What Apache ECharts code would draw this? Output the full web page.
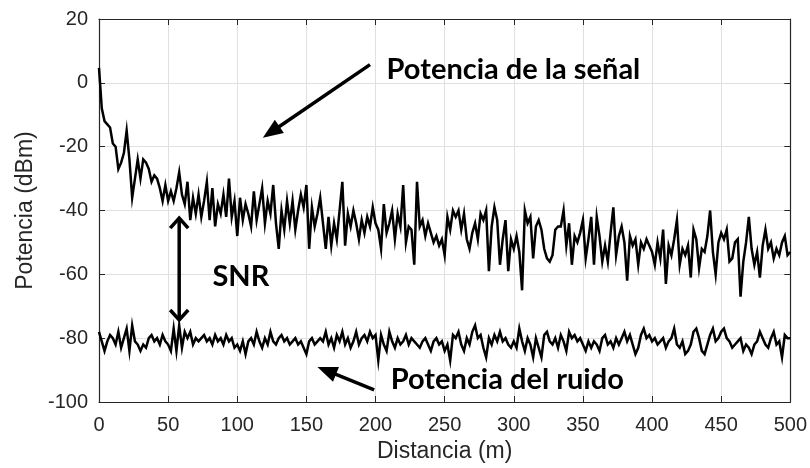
<!DOCTYPE html>
<html><head><meta charset="utf-8">
<script src="https://cdn.jsdelivr.net/npm/echarts@6/dist/echarts.min.js"></script>
<style>html,body{margin:0;padding:0;background:#fff}#c{width:810px;height:468px}</style>
</head><body><div id="c"></div>
<script>
// Distance step between samples (m)
const STEP = 2;
// Signal power (dBm), samples at 0,2,4,...,500 m
const signal = [
 4.7,-8,-12,-13,-14,-19,-20,-27,-25,-22,
 -15,-24,-36,-30,-24,-30,-24,-25,-27,-31,
 -29,-30,-33,-37,-32,-37,-34,-37,-33,-28,
 -35,-38,-31,-43,-36,-41,-35,-42,-37,-31,
 -43,-33,-45,-38,-41,-35,-42,-30,-42,-37,
 -48,-36,-43,-38,-41,-45,-34,-43,-38,-33,
 -44,-37,-41,-32,-44,-52,-40,-46,-37,-44,
 -37,-46,-40,-35,-39,-32,-52,-39,-45,-41,
 -36,-44,-52,-42,-51,-44,-49,-40,-31,-51,
 -41,-45,-40,-44,-49,-43,-47,-42,-45,-39,
 -44,-46,-52,-38,-47,-44,-40,-49,-41,-45,
 -32,-50,-45,-46,-57,-31,-45,-43,-48,-44,
 -47,-50,-48,-51,-49,-54,-42,-46,-40,-42,
 -40,-46,-41,-49,-52,-47,-44,-49,-41,-43,
 -40,-59,-45,-39,-43,-57,-49,-43,-59,-49,
 -52,-48,-53,-65,-40,-44,-42,-55,-45,-43,
 -46,-52,-55,-56,-54,-46,-45,-45,-40,-51,
 -44,-57,-48,-50,-47,-43,-55,-49,-42,-57,
 -42,-48,-56,-51,-56,-47,-39,-54,-48,-45,
 -50,-62,-48,-51,-49,-57,-50,-52,-49,-51,
 -53,-57,-50,-55,-46,-63,-51,-54,-49,-43,
 -57,-52,-54,-51,-61,-46,-49,-58,-52,-53,
 -48,-40,-53,-60,-50,-47,-49,-46,-56,-55,
 -50,-49,-67,-56,-50,-42,-52,-57,-53,-61,
 -51,-46,-52,-50,-55,-52,-54,-50,-48,-54,
 -53
];
// Noise power (dBm), samples at 0,2,4,...,500 m
const noise = [
 -78,-81,-84,-81,-79,-80,-82,-78,-83,-80,
 -77,-84,-76,-81,-82,-84,-82,-83,-80,-79,
 -81,-80,-82,-79,-81,-82,-84,-77,-84,-76,
 -83,-78,-80,-78,-82,-80,-81,-80,-79,-81,
 -80,-82,-79,-81,-80,-82,-79,-81,-80,-83,
 -82,-84,-81,-85,-81,-80,-82,-78,-81,-83,
 -80,-82,-78,-81,-82,-80,-79,-81,-80,-82,
 -81,-80,-82,-81,-83,-85,-81,-80,-82,-81,
 -80,-81,-78,-82,-80,-83,-79,-81,-78,-82,
 -80,-83,-81,-78,-82,-80,-79,-81,-78,-80,
 -79,-87,-79,-82,-84,-78,-81,-83,-80,-82,
 -81,-79,-82,-80,-81,-82,-83,-81,-80,-82,
 -84,-81,-80,-82,-81,-84,-82,-87,-79,-80,
 -78,-82,-84,-80,-82,-78,-76,-80,-79,-83,
 -86,-80,-82,-79,-81,-78,-81,-80,-82,-83,
 -81,-83,-77,-81,-84,-80,-82,-86,-80,-83,
 -86,-79,-78,-81,-82,-80,-83,-79,-81,-84,
 -78,-80,-79,-81,-80,-82,-84,-81,-83,-81,
 -82,-84,-80,-79,-82,-81,-83,-80,-82,-80,
 -78,-81,-79,-82,-85,-83,-79,-77,-80,-79,
 -81,-80,-82,-81,-80,-83,-81,-80,-77,-82,
 -83,-81,-85,-84,-82,-78,-77,-80,-84,-85,
 -82,-79,-77,-81,-80,-78,-77,-80,-81,-83,
 -82,-81,-80,-84,-82,-83,-85,-82,-81,-78,
 -80,-82,-83,-80,-78,-82,-81,-86,-79,-80,
 -80
];
const xRange = {min: 0, max: 500, interval: 50};
const yRange = {min: -100, max: 20, interval: 20};
const xTitle = 'Distancia (m)';
const yTitle = 'Potencia (dBm)';
// Annotation anchors in data coordinates
const annSignalText = {text: 'Potencia de la señal', at: [208, 4]};
const annSignalArrow = {from: [196, 5.7], to: [118.5, -17.2]};
const annSNRText = {text: 'SNR', at: [82, -60.7]};
const annSNRArrow = {from: [58, -42.4], to: [58, -74.3]};
const annNoiseText = {text: 'Potencia del ruido', at: [211, -93]};
const annNoiseArrow = {from: [199, -96.2], to: [158, -89]};

const toPairs = arr => arr.map((v, i) => [i * STEP, v]);
const AX = '#262626';
const tickFont = {color: AX, fontSize: 20, fontFamily: 'Liberation Sans, Arial, sans-serif'};
const titleFont = {color: AX, fontSize: 23, fontFamily: 'Liberation Sans, Arial, sans-serif'};

const chart = echarts.init(document.getElementById('c'), null, {renderer: 'canvas'});
const boxAxis = () => ({show: true, onZero: false, lineStyle: {color: AX, width: 1.2}});
const tick = {show: true, inside: true, length: 6, lineStyle: {color: AX}};
chart.setOption({
  animation: false,
  backgroundColor: '#fff',
  grid: {left: 99, right: 19, top: 19, bottom: 66, containLabel: false},
  xAxis: [
    Object.assign({type: 'value', position: 'bottom',
      axisLine: boxAxis(), axisTick: tick,
      axisLabel: Object.assign({margin: 13, showMinLabel: true, showMaxLabel: true}, tickFont),
      splitLine: {show: true, lineStyle: {color: '#e0e0e0', width: 1}},
      name: xTitle, nameLocation: 'middle', nameGap: 34, nameTextStyle: titleFont}, xRange),
    Object.assign({type: 'value', position: 'top',
      axisLine: boxAxis(), axisTick: tick,
      axisLabel: {show: false}, splitLine: {show: false}}, xRange)
  ],
  yAxis: [
    Object.assign({type: 'value', position: 'left',
      axisLine: boxAxis(), axisTick: tick,
      axisLabel: Object.assign({margin: 11, showMinLabel: true, showMaxLabel: true}, tickFont),
      splitLine: {show: true, lineStyle: {color: '#e0e0e0', width: 1}},
      name: yTitle, nameLocation: 'middle', nameGap: 62, nameTextStyle: titleFont}, yRange),
    Object.assign({type: 'value', position: 'right',
      axisLine: boxAxis(), axisTick: tick,
      axisLabel: {show: false}, splitLine: {show: false}}, yRange)
  ],
  series: [
    {name: 'Potencia de la señal', type: 'line', data: toPairs(signal), showSymbol: false,
     lineStyle: {color: '#000', width: 2.5, join: 'miter'}, xAxisIndex: 0, yAxisIndex: 0, z: 3},
    {name: 'Potencia del ruido', type: 'line', data: toPairs(noise), showSymbol: false,
     lineStyle: {color: '#000', width: 2.5, join: 'miter'}, xAxisIndex: 0, yAxisIndex: 0, z: 3}
  ]
});

const px = p => chart.convertToPixel({xAxisIndex: 0, yAxisIndex: 0}, p);
function arrow(a, b, head, headW) {
  const p0 = px(a), p1 = px(b);
  const dx = p1[0] - p0[0], dy = p1[1] - p0[1];
  const L = Math.hypot(dx, dy), ux = dx / L, uy = dy / L;
  const nx = -uy, ny = ux;
  const tip = p1;
  const s1 = [p1[0] - ux * head * 0.8, p1[1] - uy * head * 0.8];
  return [
    {type: 'line', shape: {x1: p0[0], y1: p0[1], x2: s1[0], y2: s1[1]}, style: {stroke: '#000', lineWidth: 3.5}},
    {type: 'polygon', shape: {points: [
      [tip[0], tip[1]],
      [tip[0] - ux * head + nx * headW, tip[1] - uy * head + ny * headW],
      [tip[0] - ux * head - nx * headW, tip[1] - uy * head - ny * headW]]}, style: {fill: '#000'}}
  ];
}
function doubleArrow(a, b, head, headW) {
  const p0 = px(a), p1 = px(b);
  const dx = p1[0] - p0[0], dy = p1[1] - p0[1];
  const L = Math.hypot(dx, dy), ux = dx / L, uy = dy / L;
  const nx = -uy, ny = ux;
  const chev = (tip, dx, dy) => ({type: 'polyline', shape: {points: [
      [tip[0] - dx * head + nx * headW, tip[1] - dy * head + ny * headW],
      [tip[0], tip[1]],
      [tip[0] - dx * head - nx * headW, tip[1] - dy * head - ny * headW]]},
    style: {stroke: '#000', lineWidth: 3.5, fill: null, lineJoin: 'miter'}});
  return [
    {type: 'line', shape: {x1: p0[0], y1: p0[1] + 1, x2: p1[0], y2: p1[1] - 1}, style: {stroke: '#000', lineWidth: 3.5}},
    chev(p1, ux, uy), chev(p0, -ux, -uy)
  ];
}
function label(a) {
  const p = px(a.at);
  return {type: 'text', x: p[0], y: p[1], style: {text: a.text, fill: '#000',
    font: 'bold 29px Lato, "Open Sans", sans-serif', align: 'left', verticalAlign: 'middle'}};
}
const g = [].concat(
  arrow(annSignalArrow.from, annSignalArrow.to, 20, 8),
  doubleArrow(annSNRArrow.from, annSNRArrow.to, 10, 9),
  arrow(annNoiseArrow.from, annNoiseArrow.to, 20, 8),
  [label(annSignalText), label(annSNRText), label(annNoiseText)]
);
chart.setOption({graphic: g.map(e => Object.assign({z: 10}, e))});
</script></body></html>
